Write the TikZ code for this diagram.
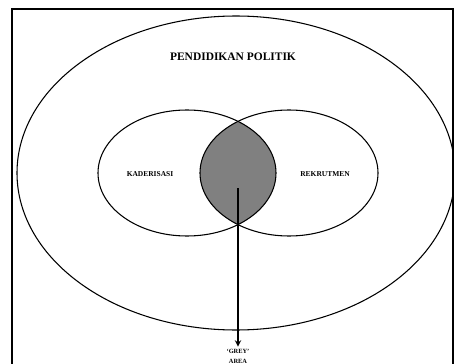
\documentclass[tikz,border=0pt]{standalone}
\usepackage{fontspec}
\setmainfont{Liberation Serif}
\usetikzlibrary{shapes.geometric}

\begin{document}
\begin{tikzpicture}[x=0.75pt, y=-0.75pt,
    ring/.style={draw, ellipse, line width=0.8pt, inner sep=0pt},
    lbl/.style={font=\bfseries\fontsize{5.6}{6}\selectfont}]
    \useasboundingbox (0,0) rectangle (454,364);
    \clip (0,0) rectangle (454,364);
    \draw[line width=0.8pt] (12,9) rectangle (453,380);

    % Grey area
    \begin{scope}
        \clip (187,173) ellipse [x radius=89, y radius=63];
        \fill[gray] (289,173) ellipse [x radius=89, y radius=63];
    \end{scope}

    % Nodes
    \node[ring, minimum width=438*0.75pt, minimum height=314*0.75pt] (politik) at (236,173) {};
    \node[ring, minimum width=178*0.75pt, minimum height=126*0.75pt] (kader) at (187,173) {};
    \node[ring, minimum width=178*0.75pt, minimum height=126*0.75pt] (rekrut) at (289,173) {};
    \node[font=\bfseries\fontsize{8.6}{10}\selectfont] (judul) at (233,57) {PENDIDIKAN POLITIK};
    \node[lbl] (tkader) at (150,174) {KADERISASI};
    \node[lbl] (trekrut) at (325,174) {REKRUTMEN};
    \coordinate (grey) at (238,188);
    \node[font=\bfseries\fontsize{4.8}{7.5}\selectfont, align=center, inner sep=1.5pt] (area) at (238,356) {`GREY'\\AREA};

    % Arrows
    \draw[-stealth, line width=1.1pt] (grey) -- (area.north);
\end{tikzpicture}
\end{document}
